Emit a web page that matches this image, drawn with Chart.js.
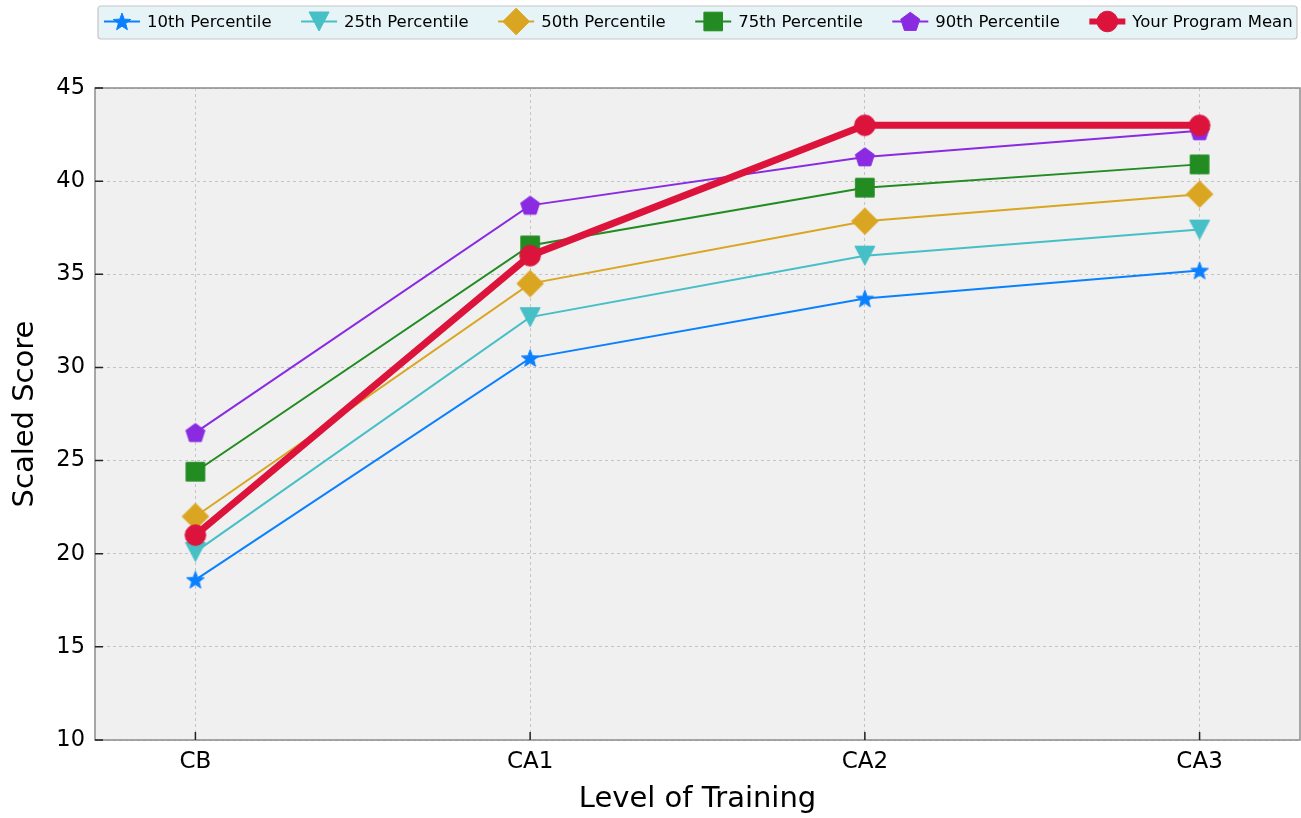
<!DOCTYPE html>
<html>
<head>
<meta charset="utf-8">
<script src="https://cdn.jsdelivr.net/npm/chart.js@4.4.1/dist/chart.umd.min.js"></script>
<style>
html,body{margin:0;padding:0;background:#fff;}
#wrap{position:relative;width:1301px;height:818px;}
</style>
</head>
<body>
<div id="wrap"><canvas id="c" width="1301" height="818"></canvas></div>
<script>
const categories = ['CB', 'CA1', 'CA2', 'CA3'];
const p10 = [18.6, 30.5, 33.7, 35.2];
const p25 = [20.1, 32.7, 36.0, 37.4];
const p50 = [22.0, 34.5, 37.85, 39.3];
const p75 = [24.4, 36.55, 39.65, 40.9];
const p90 = [26.5, 38.7, 41.3, 42.7];
const programMean = [21.0, 36.0, 43.0, 43.0];
const seriesNames = ['10th Percentile', '25th Percentile', '50th Percentile', '75th Percentile', '90th Percentile', 'Your Program Mean'];
const yTicks = [10, 15, 20, 25, 30, 35, 40, 45];

const FONT = "'DejaVu Sans', sans-serif";

function drawMarker(ctx, shape, x, y, color) {
  ctx.save();
  ctx.fillStyle = color;
  ctx.strokeStyle = color;
  ctx.lineWidth = 1;
  ctx.beginPath();
  if (shape === 'star') {
    const R = 9.2, r = R * 0.42;
    for (let i = 0; i < 10; i++) {
      const a = -Math.PI / 2 + i * Math.PI / 5;
      const rr = i % 2 === 0 ? R : r;
      const px = x + rr * Math.cos(a), py = y + rr * Math.sin(a) + 0.8;
      i === 0 ? ctx.moveTo(px, py) : ctx.lineTo(px, py);
    }
    ctx.closePath();
  } else if (shape === 'tridown') {
    ctx.moveTo(x - 10, y - 9.5);
    ctx.lineTo(x + 10, y - 9.5);
    ctx.lineTo(x, y + 9.5);
    ctx.closePath();
  } else if (shape === 'diamond') {
    ctx.moveTo(x, y - 13.3);
    ctx.lineTo(x + 13.3, y);
    ctx.lineTo(x, y + 13.3);
    ctx.lineTo(x - 13.3, y);
    ctx.closePath();
  } else if (shape === 'square') {
    ctx.rect(x - 9.3, y - 9.3, 18.6, 18.6);
  } else if (shape === 'pentagon') {
    const R = 10;
    for (let i = 0; i < 5; i++) {
      const a = -Math.PI / 2 + i * 2 * Math.PI / 5;
      const px = x + R * Math.cos(a), py = y + R * Math.sin(a) + 0.8;
      i === 0 ? ctx.moveTo(px, py) : ctx.lineTo(px, py);
    }
    ctx.closePath();
  } else {
    ctx.arc(x, y, 10.3, 0, Math.PI * 2);
  }
  ctx.fill();
  ctx.stroke();
  ctx.restore();
}

function markerImage(shape, color) {
  const cv = document.createElement('canvas');
  cv.width = 30; cv.height = 30;
  drawMarker(cv.getContext('2d'), shape, 15, 15, color);
  return cv;
}

const colors = ['#0a80ff', '#46bfc6', '#daa520', '#228b22', '#8a2be2', '#dc143c'];
const shapes = ['star', 'tridown', 'diamond', 'square', 'pentagon', 'circle'];
const seriesData = [p10, p25, p50, p75, p90, programMean];
const widths = [2, 2, 2, 2, 2, 7];

const datasets = seriesData.map((vals, i) => ({
  label: seriesNames[i],
  data: vals.map((v, j) => ({ x: j, y: v })),
  borderColor: colors[i],
  backgroundColor: colors[i],
  borderWidth: widths[i],
  pointStyle: markerImage(shapes[i], colors[i]),
  pointRadius: 10,
  tension: 0,
  fill: false,
  order: seriesData.length - i
}));

const bgPlugin = {
  id: 'bg',
  beforeDraw(chart) {
    const { ctx, chartArea: a } = chart;
    ctx.save();
    ctx.fillStyle = '#ffffff';
    ctx.fillRect(0, 0, chart.width, chart.height);
    ctx.fillStyle = '#f0f0f0';
    ctx.fillRect(a.left, a.top, a.right - a.left, a.bottom - a.top);
    ctx.restore();
  },
  afterDraw(chart) {
    const { ctx, chartArea: a, scales } = chart;
    ctx.save();
    // frame
    ctx.strokeStyle = '#8c8c8c';
    ctx.lineWidth = 1.5;
    ctx.strokeRect(a.left, a.top, a.right - a.left, a.bottom - a.top);
    // inward ticks
    ctx.strokeStyle = '#222';
    ctx.lineWidth = 1.5;
    ctx.beginPath();
    scales.y.ticks.forEach(t => {
      const y = scales.y.getPixelForValue(t.value);
      ctx.moveTo(a.left, y); ctx.lineTo(a.left + 8, y);
    });
    scales.x.ticks.forEach(t => {
      const x = scales.x.getPixelForValue(t.value);
      ctx.moveTo(x, a.bottom); ctx.lineTo(x, a.bottom - 8);
    });
    ctx.stroke();

    // legend
    const lx = 98, ly = 6, lw = 1199, lh = 33;
    ctx.beginPath();
    if (ctx.roundRect) ctx.roundRect(lx, ly, lw, lh, 3); else ctx.rect(lx, ly, lw, lh);
    ctx.fillStyle = '#e6f4f8';
    ctx.fill();
    ctx.strokeStyle = '#c6c6c6';
    ctx.lineWidth = 1.2;
    ctx.stroke();
    ctx.font = '16.5px ' + FONT;
    ctx.textBaseline = 'middle';
    ctx.fillStyle = '#000';
    let x0 = 104;
    const cy = 21.5;
    chart.data.datasets.forEach((ds, i) => {
      ctx.beginPath();
      ctx.strokeStyle = colors[i];
      ctx.lineWidth = Math.min(widths[i], 6);
      ctx.moveTo(x0, cy); ctx.lineTo(x0 + 36, cy);
      ctx.stroke();
      drawMarker(ctx, shapes[i], x0 + 18, cy, colors[i]);
      ctx.fillStyle = '#000';
      ctx.fillText(ds.label, x0 + 43, cy + 1);
      x0 += 43 + ctx.measureText(ds.label).width + 29.5;
    });
    ctx.restore();
  }
};

new Chart(document.getElementById('c'), {
  type: 'line',
  data: { datasets },
  plugins: [bgPlugin],
  options: {
    responsive: false,
    animation: false,
    devicePixelRatio: 1,
    layout: { autoPadding: false, padding: { top: 88, right: 1, left: 0, bottom: 0 } },
    plugins: { legend: { display: false }, tooltip: { enabled: false } },
    scales: {
      x: {
        type: 'linear',
        min: -0.3,
        max: 3.3,
        afterBuildTicks(scale) { scale.ticks = categories.map((c, i) => ({ value: i })); },
        afterFit(scale) { scale.height = 78; scale.paddingLeft = 0; scale.paddingRight = 0; },
        ticks: {
          callback: (v) => categories[v],
          font: { family: FONT, size: 23 },
          color: '#000',
          padding: 8,
          maxRotation: 0
        },
        grid: { color: '#c4c4c4', lineWidth: 1, drawTicks: false },
        border: { display: false, dash: [3, 3] },
        title: {
          display: true,
          text: 'Level of Training',
          font: { family: FONT, size: 29 },
          color: '#000',
          padding: { top: 0, bottom: 1 }
        }
      },
      y: {
        min: 10,
        max: 45,
        afterBuildTicks(scale) { scale.ticks = yTicks.map(v => ({ value: v })); },
        afterFit(scale) { scale.width = 95; },
        ticks: {
          font: { family: FONT, size: 22.5 },
          color: '#000',
          padding: 10
        },
        grid: { color: '#c4c4c4', lineWidth: 1, drawTicks: false },
        border: { display: false, dash: [3, 3] },
        title: {
          display: true,
          text: 'Scaled Score',
          font: { family: FONT, size: 29 },
          color: '#000',
          padding: { top: 8, bottom: 0 }
        }
      }
    }
  }
});
</script>
</body>
</html>
